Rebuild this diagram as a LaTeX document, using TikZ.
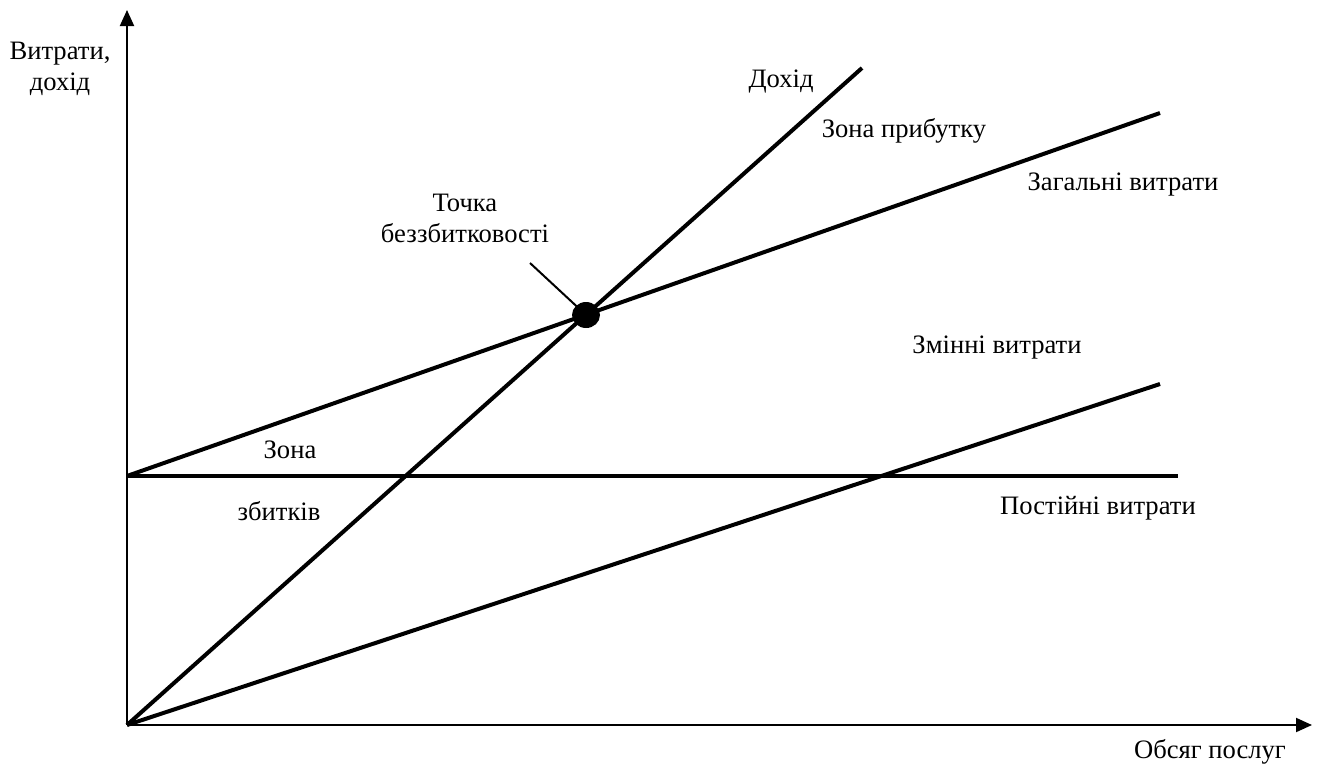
\documentclass[tikz,border=0pt]{standalone}
\usepackage{fontspec}
\setmainfont{Liberation Serif}
\usetikzlibrary{arrows.meta,shapes.geometric}
\begin{document}
\begin{tikzpicture}[x=1pt,y=-1pt,
  axis/.style={line width=2pt,-{Triangle[length=16pt,width=14pt]}},
  graph/.style={line width=4pt},
  lbl/.style={font=\fontsize{26.6}{31}\selectfont,inner sep=0pt,align=center}]
\useasboundingbox (0,0) rectangle (1317,769);

% axes
\coordinate (O) at (127,725);
\coordinate (ytop) at (127,10);
\coordinate (xend) at (1312,725);
\draw[axis] (O) -- (ytop);
\draw[axis] (O) -- (xend);

% lines
\coordinate (F0) at (127,476);
\coordinate (F1) at (1178,476);
\coordinate (T1) at (1160,113);
\coordinate (R1) at (862,68);
\coordinate (V1) at (1160,384);
\draw[graph] (F0) -- (F1);
\draw[graph] (F0) -- (T1);
\draw[graph] (O) -- (R1);
\draw[graph] (O) -- (V1);

% break-even point
\node[ellipse,fill=black,minimum width=28pt,minimum height=26pt,inner sep=0pt] (BE) at (586,315) {};
\coordinate (lead) at (530,263);
\draw[line width=2pt] (lead) -- (BE.center);

% labels
\node[lbl] (ylab) at (60,69) {Витрати,\\дохід};
\node[lbl] (xlab) at (1210,752) {Обсяг послуг};
\node[lbl] (rev) at (781,82) {Дохід};
\node[lbl] (profit) at (904,131) {Зона прибутку};
\node[lbl] (total) at (1123,185) {Загальні витрати};
\node[lbl] (bep) at (465,218) {Точка\\беззбитковості};
\node[lbl] (var) at (997,348) {Змінні витрати};
\node[lbl] (loss1) at (290,450) {Зона};
\node[lbl] (loss2) at (279,511) {збитків};
\node[lbl] (fixed) at (1098,508) {Постійні витрати};
\end{tikzpicture}
\end{document}
